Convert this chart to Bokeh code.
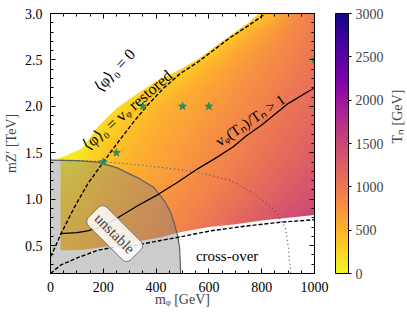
import math
import numpy as np
from bokeh.plotting import figure
from bokeh.models import (LinearColorMapper, ColorBar, LinearAxis, SingleIntervalTicker,
                          FixedTicker, Label, ColumnDataSource, Range1d, PrintfTickFormatter,
                          CustomLabelingPolicy)
from bokeh.palettes import Plasma256
from bokeh.embed import file_html
from bokeh.resources import INLINE
from bokeh.core.properties import value

# ---------------- data ----------------
m_phi_grid = [0, 100, 200, 300, 400, 500, 600, 700, 800, 900, 1000]          # GeV
m_zp_grid = [0.2, 0.4, 0.6, 0.8, 1.0, 1.2, 1.4, 1.6, 1.8, 2.0, 2.2, 2.4, 2.6, 2.8, 3.0]  # TeV
# T_n [GeV], one row per m_Z' value, one column per m_phi value
Tn_grid = [
    [450, 520, 650, 770, 900, 1040, 1170, 1320, 1480, 1600, 1700],
    [410, 480, 610, 730, 860, 990, 1120, 1260, 1420, 1540, 1650],
    [370, 440, 570, 690, 810, 930, 1060, 1200, 1360, 1480, 1600],
    [320, 390, 530, 650, 760, 880, 1000, 1130, 1280, 1400, 1520],
    [260, 330, 480, 600, 710, 820, 940, 1060, 1190, 1310, 1420],
    [180, 250, 430, 550, 660, 770, 880, 1000, 1120, 1240, 1350],
    [100, 150, 380, 500, 610, 720, 830, 940, 1060, 1170, 1280],
    [40, 60, 320, 450, 570, 680, 790, 890, 1010, 1120, 1230],
    [40, 40, 230, 390, 520, 630, 740, 850, 960, 1070, 1180],
    [40, 40, 80, 290, 460, 580, 690, 800, 910, 1030, 1140],
    [40, 40, 40, 100, 320, 480, 620, 750, 860, 980, 1100],
    [40, 40, 40, 40, 100, 300, 520, 680, 810, 930, 1060],
    [40, 40, 40, 40, 40, 100, 300, 580, 740, 880, 1020],
    [40, 40, 40, 40, 40, 40, 100, 350, 620, 820, 990],
    [40, 40, 40, 40, 40, 40, 40, 100, 320, 720, 960],
]

# upper edge of the region with a transition (white above)
top_edge_m = [0, 20, 60, 120, 180, 250, 320, 400, 480, 560, 640, 700, 750, 790]
top_edge_z = [1.43, 1.43, 1.47, 1.55, 1.78, 1.98, 2.12, 2.27, 2.38, 2.51, 2.68, 2.80, 2.90, 3.00]
# lower edge of the region with data
data_bottom_m = [38, 100, 160, 230, 300, 360, 420, 470, 520, 600, 700, 800, 900, 1000]
data_bottom_z = [0.45, 0.45, 0.47, 0.50, 0.53, 0.56, 0.59, 0.63, 0.66, 0.70, 0.73, 0.77, 0.80, 0.83]
data_left_m = 38
data_left_top_z = 1.43

# <phi>_0 = v_phi restored (dashed)
restored_m = [0, 20, 40, 90, 140, 200, 260, 320, 370, 430, 490, 560, 620, 680, 750, 800, 815]
restored_z = [0.38, 0.50, 0.63, 0.91, 1.16, 1.40, 1.63, 1.85, 2.02, 2.20, 2.35, 2.48, 2.61, 2.74, 2.87, 2.97, 3.00]
# cross-over boundary (dashed)
crossover_m = [0, 38, 103, 179, 255, 331, 407, 483, 608, 738, 863, 1000]
crossover_z = [0.20, 0.29, 0.37, 0.45, 0.49, 0.51, 0.55, 0.59, 0.66, 0.71, 0.75, 0.78]
# v_phi(T_n)/T_n = 1 (solid)
strong_m = [38, 100, 141, 200, 255, 330, 407, 480, 559, 624, 690, 741, 800, 900, 1000]
strong_z = [0.63, 0.64, 0.66, 0.71, 0.80, 0.93, 1.05, 1.18, 1.33, 1.44, 1.56, 1.68, 1.80, 2.03, 2.20]
# unstable region boundary (grey arc)
unstable_m = [0, 100, 179, 250, 331, 390, 432, 455, 470, 482, 489, 493]
unstable_z = [1.42, 1.415, 1.40, 1.34, 1.23, 1.13, 0.98, 0.86, 0.73, 0.60, 0.48, 0.20]
# dotted curve
dotted_m = [0, 180, 293, 400, 483, 559, 684, 776, 852, 890, 901, 909, 910]
dotted_z = [1.42, 1.41, 1.38, 1.35, 1.32, 1.29, 1.20, 1.05, 0.875, 0.69, 0.48, 0.23, 0.20]
# benchmark points (stars)
bench_m = [200, 250, 350, 500, 600, 1000]
bench_z = [1.4, 1.5, 2.0, 2.0, 2.0, 2.5]

cb_ticks = [0, 500, 1000, 1500, 2000, 2500, 3000]
Tn_low, Tn_high = 0, 3000

SERIF = "Liberation Serif"

# ---------------- field on a fine raster for display ----------------
gx = np.array(m_phi_grid, float)
gy = np.array(m_zp_grid, float)
G = np.array(Tn_grid, float)
NX, NY = 264, 260
fx = (np.arange(NX) + 0.5) / NX * 1000.0
fy = 0.2 + (np.arange(NY) + 0.5) / NY * 2.8
tmp = np.array([np.interp(fx, gx, row) for row in G])
img = np.array([np.interp(fy, gy, tmp[:, i]) for i in range(NX)]).T

mapper = LinearColorMapper(palette=list(reversed(Plasma256)), low=Tn_low, high=Tn_high)

p = figure(frame_width=264, frame_height=260,
           x_range=Range1d(0, 1000), y_range=Range1d(0.2, 3.0),
           output_backend="svg", toolbar_location=None,
           min_border_left=45, min_border_top=7, min_border_bottom=37, min_border_right=0)
p.xgrid.visible = False
p.ygrid.visible = False
p.outline_line_color = "black"

p.image(image=[img], x=0, y=0.2, dw=1000, dh=2.8, color_mapper=mapper)

# white where there is no data
top_xs = top_edge_m + [0]
top_ys = top_edge_z + [3.0]
p.patch(top_xs, top_ys, fill_color="white", line_color=None)
bot_xs = [0, 0, data_left_m] + data_bottom_m + [1000]
bot_ys = [0.2, data_left_top_z, data_left_top_z] + data_bottom_z + [0.2]
p.patch(bot_xs, bot_ys, fill_color="white", line_color=None)

# unstable grey region
p.patch(unstable_m + [0], unstable_z + [0.2], fill_color="gray", fill_alpha=0.4, line_color=None)
p.line(unstable_m, unstable_z, line_color="#606060", line_width=1.2)

p.line(dotted_m, dotted_z, line_color="#555555", line_width=1.2, line_dash="1 3")
p.line(restored_m, restored_z, line_color="black", line_width=1.4, line_dash="4 2")
p.line(crossover_m, crossover_z, line_color="black", line_width=1.4, line_dash="4 2")
p.line(strong_m, strong_z, line_color="black", line_width=1.3)

p.scatter(bench_m, bench_z, marker="star", size=8, fill_color="#2e8b57", line_color="#2e8b57")

ann = ColumnDataSource(dict(
    x=[243, 291, 757, 669],
    y=[2.39, 1.96, 1.85, 0.39],
    text=["⟨φ⟩₀ = 0", "⟨φ⟩₀ = vᵩ restored", "vᵩ(Tₙ)/Tₙ > 1", "cross-over"],
    angle=[47, 41, 34, 0],
    size=["16px", "16px", "15px", "15px"],
))
p.text(x="x", y="y", text="text", angle="angle", angle_units="deg", source=ann,
       text_align="center", text_baseline="middle", text_font=value(SERIF),
       text_font_size="size", text_color="black")

p.add_layout(Label(x=243, y=0.63, text="unstable", angle=-45, angle_units="deg",
                   text_align="center", text_baseline="middle", text_font=SERIF,
                   text_font_size="15px", background_fill_color="white",
                   background_fill_alpha=0.85, border_line_color="#777777",
                   border_line_width=1, border_radius=6, padding=5))

# axes
NO_LABELS = CustomLabelingPolicy(code="return []")

def style(ax, labels=True):
    ax.major_tick_in = 5
    ax.major_tick_out = 0
    ax.minor_tick_in = 3
    ax.minor_tick_out = 0
    ax.axis_line_color = "black"
    ax.major_tick_line_color = "black"
    ax.minor_tick_line_color = "black"
    ax.major_label_text_font = SERIF
    ax.major_label_text_font_size = "14px"
    ax.major_label_text_color = "black"
    if not labels:
        ax.major_label_policy = NO_LABELS
        ax.major_label_standoff = 0

def spacer(size):
    ax = LinearAxis(ticker=FixedTicker(ticks=[]))
    ax.axis_line_color = None
    ax.major_tick_line_color = None
    ax.minor_tick_line_color = None
    ax.major_tick_in = 0
    ax.major_tick_out = size
    ax.minor_tick_out = 0
    ax.major_label_standoff = 0
    ax.major_label_policy = NO_LABELS
    return ax

xt = SingleIntervalTicker(interval=200, num_minor_ticks=4)
yt = SingleIntervalTicker(interval=0.5, num_minor_ticks=5)
p.xaxis.ticker = xt
p.yaxis.ticker = yt
p.yaxis.formatter = PrintfTickFormatter(format="%.1f")
style(p.xaxis[0]); style(p.yaxis[0])
p.xaxis.axis_label = "mᵩ [GeV]"
p.yaxis.axis_label = "mZ′ [TeV]"
for ax in (p.xaxis[0], p.yaxis[0]):
    ax.axis_label_text_font = SERIF
    ax.axis_label_text_font_size = "14px"
    ax.axis_label_text_font_style = "normal"
p.xaxis.major_label_standoff = 8
p.xaxis.axis_label_standoff = -3
p.yaxis.major_label_standoff = 8
p.yaxis.axis_label_standoff = 3
p.add_layout(spacer(3), "left")

top_ax = LinearAxis(ticker=SingleIntervalTicker(interval=200, num_minor_ticks=4))
style(top_ax, labels=False)
p.add_layout(top_ax, "above")
p.add_layout(spacer(7), "above")

right_ax = LinearAxis(ticker=SingleIntervalTicker(interval=0.5, num_minor_ticks=5))
style(right_ax, labels=False)
p.add_layout(right_ax, "right")
p.add_layout(spacer(10), "right")

cb = ColorBar(color_mapper=mapper, ticker=FixedTicker(ticks=cb_ticks), width=13,
              padding=0, margin=0, bar_line_color="black", bar_line_width=1,
              major_tick_out=3, major_tick_in=0, major_tick_line_color="black",
              minor_tick_line_color=None, major_label_text_font=SERIF,
              major_label_text_font_size="14px", label_standoff=4)
p.add_layout(cb, "right")

lab_ax = LinearAxis(ticker=FixedTicker(ticks=[1.6]),
                    major_label_overrides={1.6: "Tₙ [GeV]"},
                    major_label_orientation=math.pi / 2)
lab_ax.axis_line_color = None
lab_ax.major_tick_line_color = None
lab_ax.minor_tick_line_color = None
lab_ax.major_label_text_font = SERIF
lab_ax.major_label_text_font_size = "14px"
lab_ax.major_label_standoff = 5
p.add_layout(lab_ax, "right")

open("out.html", "w").write(file_html(p, INLINE))
